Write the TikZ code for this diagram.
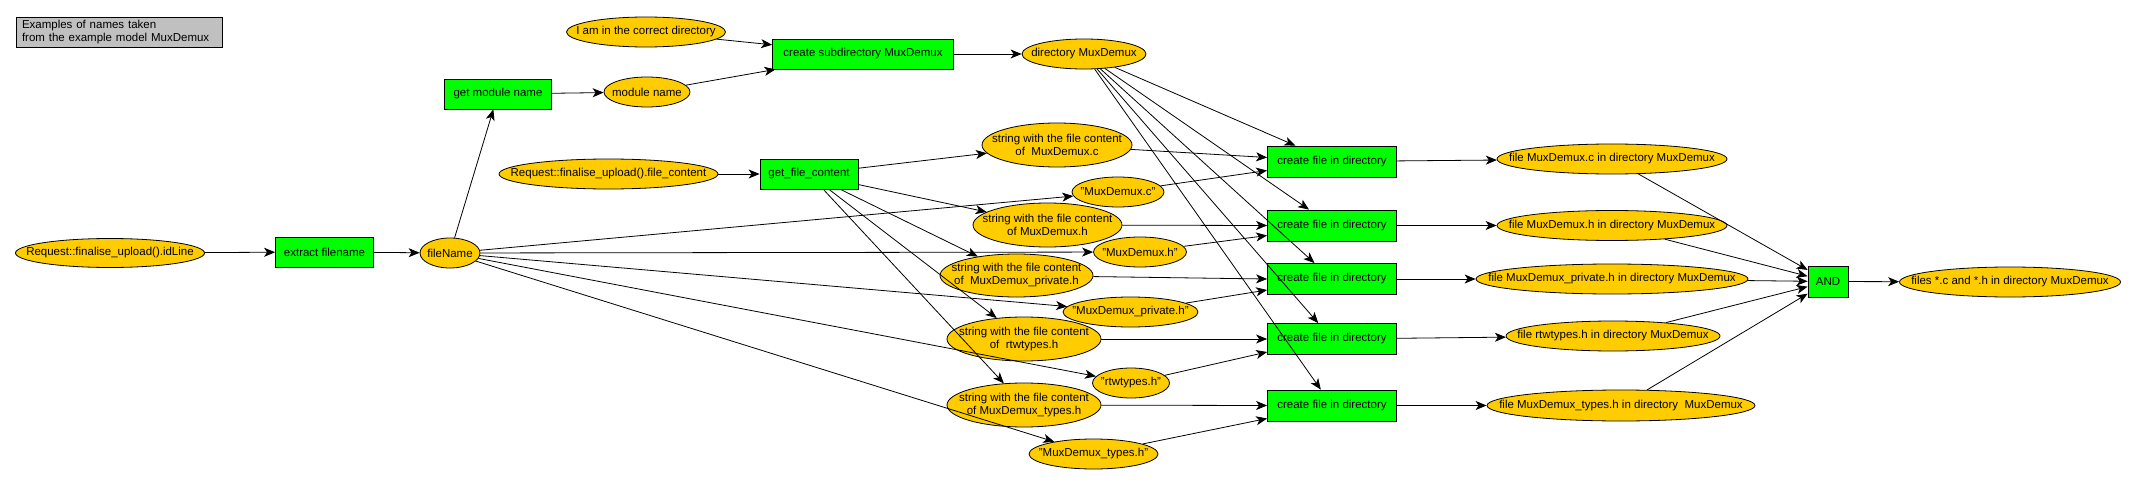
\documentclass[tikz,border=0pt]{standalone}
\usepackage{fontspec}
\setmainfont{Liberation Sans}
\usetikzlibrary{shapes.geometric,arrows.meta}
\definecolor{gold}{RGB}{255,204,0}
\definecolor{grn}{RGB}{0,255,0}
\definecolor{notegray}{RGB}{192,192,192}
\tikzset{
  ell/.style={ellipse, draw, line width=0.8pt, fill=gold, inner sep=0pt},
  etxt/.style={inner sep=0pt, align=center, font=\fontsize{11.5}{13}\selectfont},
  gbox/.style={rectangle, draw, line width=0.8pt, fill=grn, inner sep=0pt, align=center, font=\fontsize{11.5}{13}\selectfont},
  arr/.style={-{Stealth[length=11pt,width=9pt,inset=3pt]}, line width=0.8pt},
}
% ellipse node: name, position, width, height, text
\newcommand\enode[5]{%
  \node[ell, minimum width=#3pt, minimum height=#4pt] (#1) at (#2) {};
  \node[etxt] (#1t) at (#1) {#5};}
\begin{document}
\begin{tikzpicture}[x=1pt,y=-1pt]
\useasboundingbox[fill=white] (0,0) rectangle (2136,484);

% note
\node[draw, line width=0.8pt, fill=notegray, minimum width=206pt, minimum height=30pt, text width=194pt, inner xsep=6pt, inner ysep=0pt, align=left, font=\fontsize{11.5}{13.5}\selectfont] (note) at (119,32) {Examples of names taken\\from the example model MuxDemux};

% left part
\enode{idline}{110,253}{189}{29}{Request::finalise\_upload().idLine}
\node[gbox, minimum width=98pt, minimum height=30pt] (extract) at (324.5,252) {extract filename};
\enode{fname}{450,253}{60}{30}{fileName}
\node[gbox, minimum width=107pt, minimum height=30pt] (getmod) at (498,94) {get module name};
\enode{modname}{647,92}{86}{30}{module name}
\enode{iam}{646,32}{159}{30}{I am in the correct directory}
\node[gbox, minimum width=181pt, minimum height=30pt] (subdir) at (863,54) {create subdirectory MuxDemux};
\enode{dir}{1084,54}{124}{30}{directory MuxDemux}
\enode{fcont}{608.5,174}{219}{30}{Request::finalise\_upload().file\_content}
\node[gbox, minimum width=98pt, minimum height=30pt] (getfc) at (809,174) {get\_file\_content};

% strings
\enode{strc}{1057,145}{150}{44}{string with the file content\\of\ \ MuxDemux.c}
\enode{strh}{1047.5,225}{149}{44}{string with the file content\\of MuxDemux.h}
\enode{strp}{1016.5,275.5}{153}{43}{string with the file content\\of\ \ MuxDemux\_private.h}
\enode{strr}{1024,339}{154}{44}{string with the file content\\of\ \ rtwtypes.h}
\enode{strt}{1024,405}{154}{44}{string with the file content\\of MuxDemux\_types.h}

% quoted names
\enode{qc}{1118,192}{92}{30}{"MuxDemux.c"}
\enode{qh}{1140,252}{93}{30}{"MuxDemux.h"}
\enode{qp}{1130.5,312}{135}{30}{"MuxDemux\_private.h"}
\enode{qr}{1131,383}{77}{30}{"rtwtypes.h"}
\enode{qt}{1093.5,454}{129}{30}{"MuxDemux\_types.h"}

% create file boxes
\node[gbox, minimum width=129pt, minimum height=31pt] (cf1) at (1332,161.5) {create file in directory};
\node[gbox, minimum width=129pt, minimum height=31pt] (cf2) at (1332,225.5) {create file in directory};
\node[gbox, minimum width=129pt, minimum height=31pt] (cf3) at (1332,279) {create file in directory};
\node[gbox, minimum width=129pt, minimum height=31pt] (cf4) at (1332,339) {create file in directory};
\node[gbox, minimum width=129pt, minimum height=31pt] (cf5) at (1332,405.5) {create file in directory};

% files
\enode{f1}{1612,159}{230}{30}{file MuxDemux.c in directory MuxDemux}
\enode{f2}{1612,225.5}{230}{30}{file MuxDemux.h in directory MuxDemux}
\enode{f3}{1612,279}{272}{30}{file MuxDemux\_private.h in directory MuxDemux}
\enode{f4}{1613,336}{214}{30}{file rtwtypes.h in directory MuxDemux}
\enode{f5}{1621,405.5}{268}{31}{file MuxDemux\_types.h in directory\ \ MuxDemux}

\node[gbox, minimum width=40pt, minimum height=31pt] (and) at (1828,281.5) {AND};
\enode{files}{2010,282}{221}{30}{files *.c and *.h in directory MuxDemux}

% edges
\draw[arr] (idline) -- (extract);
\draw[arr] (extract) -- (fname);
\draw[arr] (fname) -- (getmod);
\draw[arr] (getmod) -- (modname);
\draw[arr] (modname) -- (subdir);
\draw[arr] (iam) -- (subdir);
\draw[arr] (subdir) -- (dir);
\foreach \c in {cf1,cf2,cf3,cf4,cf5} \draw[arr] (dir) -- (\c);
\draw[arr] (fcont) -- (getfc);
\foreach \s in {strc,strh,strp,strr,strt} \draw[arr] (getfc) -- (\s);
\foreach \q in {qc,qh,qp,qr,qt} \draw[arr] (fname) -- (\q);

\draw[arr] (strc) -- ([yshift=4pt]cf1.west);
\draw[arr] (qc) -- ([yshift=-9pt]cf1.west);
\draw[arr] (strh) -- (cf2.west);
\draw[arr] (qh) -- ([yshift=-10pt]cf2.west);
\draw[arr] (strp) -- (cf3.west);
\draw[arr] (qp) -- ([yshift=-11pt]cf3.west);
\draw[arr] (strr) -- (cf4.west);
\draw[arr] (qr) -- ([yshift=-13pt]cf4.west);
\draw[arr] (strt) -- (cf5.west);
\draw[arr] (qt) -- ([yshift=-13pt]cf5.west);

\draw[arr] (cf1) -- (f1);
\draw[arr] (cf2) -- (f2);
\draw[arr] (cf3) -- (f3);
\draw[arr] (cf4) -- (f4);
\draw[arr] (cf5) -- (f5);
\foreach \f in {f1,f2,f3,f4,f5} \draw[arr] (\f) -- (and);
\draw[arr] (and) -- (files);
\end{tikzpicture}
\end{document}
